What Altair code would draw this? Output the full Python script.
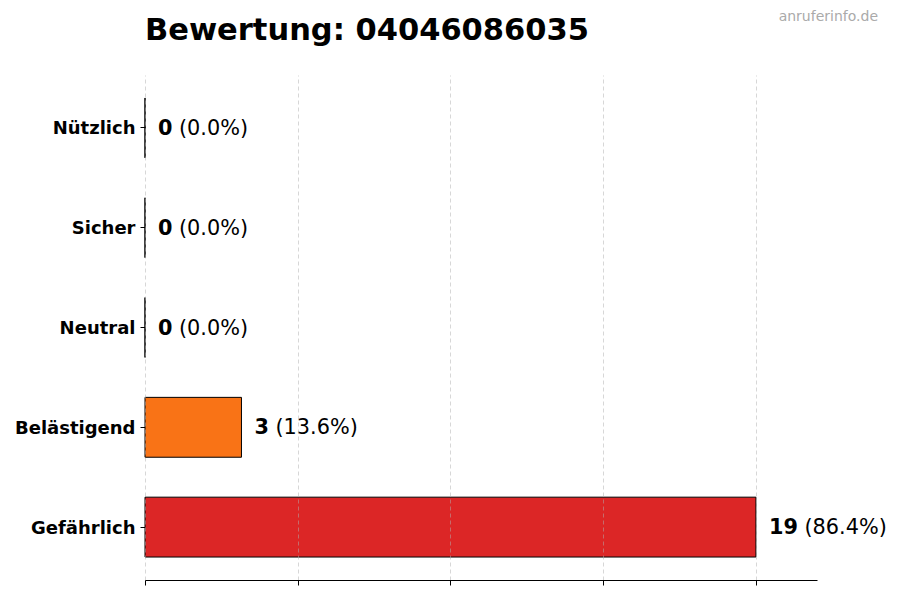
import numpy as np
import pandas as pd
import altair as alt

# rating categories, top to bottom
categories = ["Nützlich", "Sicher", "Neutral", "Belästigend", "Gefährlich"]
counts = [0, 0, 0, 3, 19]
bar_colors = ["#16a34a", "#22c55e", "#9ca3af", "#f97316", "#dc2626"]

title_text = "Bewertung: 04046086035"
watermark = "anruferinfo.de"

total = sum(counts)
df = pd.DataFrame({
    "category": categories,
    "count": counts,
    "pct": [c / total * 100 for c in counts],
})

x_max = max(counts) * 1.1
tick_values = list(np.linspace(0, max(counts), 5))

FONT = "DejaVu Sans"

base = alt.Chart(df).encode(
    y=alt.Y(
        "category:N",
        sort=categories,
        scale=alt.Scale(paddingInner=0.4, paddingOuter=0.23),
        axis=alt.Axis(
            title=None, domain=False, grid=False,
            labelFont=FONT, labelFontSize=18, labelFontWeight="bold",
            labelColor="black", tickColor="black", tickSize=5, labelPadding=5,
            labelOffset=1.5,
        ),
    ),
)

bars = base.mark_bar(stroke="black", strokeWidth=1).encode(
    x=alt.X(
        "count:Q",
        scale=alt.Scale(domain=[0, x_max], nice=False),
        axis=alt.Axis(
            title=None, labels=False, values=tick_values,
            grid=True, gridDash=[4, 3], gridColor="#b0b0b0", gridOpacity=0.5,
            domainColor="black", tickColor="black", tickSize=5, zindex=1,
        ),
    ),
    color=alt.Color(
        "category:N",
        scale=alt.Scale(domain=categories, range=bar_colors),
        legend=None,
    ),
)

num_text = base.mark_text(
    align="left", baseline="middle", dx=13, dy=1,
    font=FONT, fontSize=20.8, fontWeight="bold", color="black",
).encode(x="count:Q", text="count:Q")

pct_common = dict(align="left", baseline="middle", dy=1, font=FONT, fontSize=20.8, color="black")

pct_one = base.transform_filter("datum.count < 10").transform_calculate(
    label="'(' + format(datum.pct, '.1f') + '%)'"
).mark_text(dx=34, **pct_common).encode(x="count:Q", text="label:N")

pct_two = base.transform_filter("datum.count >= 10").transform_calculate(
    label="'(' + format(datum.pct, '.1f') + '%)'"
).mark_text(dx=48.6, **pct_common).encode(x="count:Q", text="label:N")

# heading and site mark sit above the plot area
heading = alt.Chart(pd.DataFrame({"t": [title_text]})).mark_text(
    align="left", baseline="alphabetic", font=FONT, fontSize=30.5,
    fontWeight="bold", color="black",
).encode(x=alt.value(0), y=alt.value(-35), text="t:N")

wm = alt.Chart(pd.DataFrame({"t": [watermark]})).mark_text(
    align="right", baseline="middle", font=FONT, fontSize=14, color="#aaaaaa",
).encode(x=alt.value(733), y=alt.value(-58), text="t:N")

chart = alt.layer(bars, num_text, pct_one, pct_two, heading, wm).properties(
    width=672,
    height=505,
    padding={"left": 137, "top": 67, "right": 75, "bottom": 12},
    autosize=alt.AutoSizeParams(type="none"),
).configure_view(stroke=None)

chart.save("out.html", embed_options={"renderer": "svg", "actions": False})
